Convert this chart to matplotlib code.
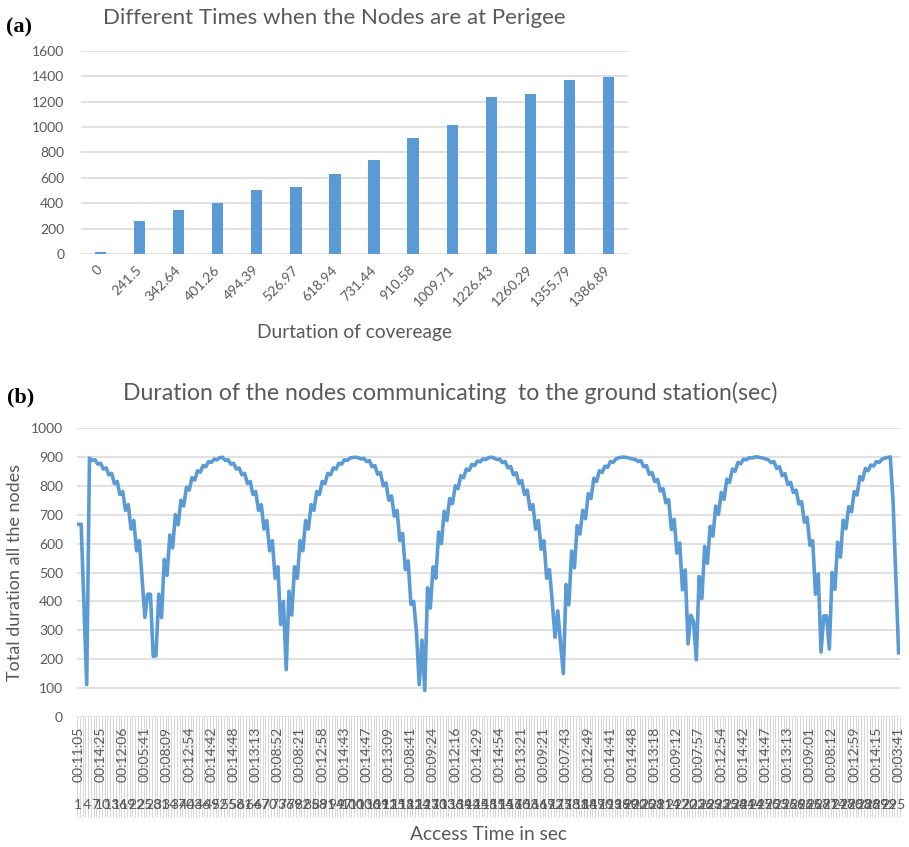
"""Perigee coverage bars and ground-station access durations (panels a and b)."""

import matplotlib.pyplot as plt

BLUE = "#5B9BD5"
GRID = "#D9D9D9"
TEXT = "#595959"
BAND = "#CFCFCF"

plt.rcParams["font.family"] = ["Lato", "DejaVu Sans"]

# (a) number of nodes at perigee per coverage duration
coverage_labels = [
    "0", "241.5", "342.64", "401.26", "494.39", "526.97", "618.94",
    "731.44", "910.58", "1009.71", "1226.43", "1260.29", "1355.79", "1386.89",
]
perigee_counts = [12, 258, 350, 401, 503, 525, 626, 739, 913, 1014, 1232, 1263, 1366, 1395]

# (b) summed contact duration of all nodes, one value per access record
access_times = [
    "00:11:05", "00:14:25", "00:12:06", "00:05:41", "00:08:09", "00:12:54", "00:14:42",
    "00:14:48", "00:13:13", "00:08:52", "00:08:21", "00:12:58", "00:14:43", "00:14:47",
    "00:13:09", "00:08:41", "00:09:24", "00:12:16", "00:14:29", "00:14:54", "00:13:21",
    "00:09:21", "00:07:43", "00:12:49", "00:14:41", "00:14:48", "00:13:18", "00:09:12",
    "00:07:57", "00:12:54", "00:14:42", "00:14:47", "00:13:13", "00:09:01", "00:08:12",
    "00:12:59", "00:14:15", "00:03:41",
]
total_duration = [
    667, 667, 390, 112, 896, 888, 890, 875, 878, 858,
    862, 838, 843, 808, 815, 770, 780, 715, 735, 650,
    680, 575, 610, 480, 345, 425, 425, 210, 212, 425,
    344, 545, 490, 630, 585, 700, 665, 750, 730, 795,
    785, 828, 820, 852, 847, 870, 866, 884, 881, 892,
    890, 897, 899, 888, 890, 875, 878, 858, 862, 838,
    843, 808, 815, 770, 780, 715, 735, 650, 680, 575,
    610, 480, 520, 320, 400, 164, 435, 353, 520, 480,
    610, 575, 680, 650, 735, 715, 780, 770, 815, 808,
    843, 838, 862, 858, 878, 875, 890, 888, 896, 898,
    899, 897, 893, 895, 884, 887, 866, 870, 840, 846,
    800, 810, 750, 765, 695, 715, 610, 635, 510, 540,
    390, 400, 295, 112, 266, 92, 447, 377, 520, 480,
    640, 600, 712, 680, 756, 738, 800, 790, 835, 828,
    858, 853, 874, 870, 886, 883, 893, 891, 897, 899,
    896, 891, 893, 880, 884, 862, 867, 838, 845, 808,
    818, 770, 785, 718, 735, 650, 680, 580, 610, 480,
    510, 400, 276, 367, 255, 150, 458, 388, 574, 516,
    662, 633, 715, 686, 773, 756, 826, 815, 852, 846,
    868, 864, 884, 881, 893, 897, 899, 899, 898, 895,
    893, 891, 884, 887, 866, 870, 840, 846, 815, 822,
    782, 790, 741, 752, 649, 684, 567, 602, 440, 509,
    253, 352, 330, 198, 486, 410, 590, 532, 660, 626,
    730, 701, 777, 753, 823, 812, 858, 850, 881, 876,
    892, 890, 897, 896, 899, 900, 898, 896, 893, 890,
    880, 884, 860, 866, 835, 842, 805, 812, 777, 785,
    737, 745, 674, 690, 594, 610, 425, 495, 225, 350,
    350, 235, 500, 442, 605, 553, 681, 652, 728, 710,
    780, 768, 832, 820, 860, 852, 872, 868, 884, 881,
    892, 896, 898, 900, 745, 480, 222,
]
TIME_STEP = 8   # a time label every 8th record
INDEX_STEP = 3  # a record number every 3rd record


def style_axes(ax, pad):
    for spine in ax.spines.values():
        spine.set_visible(False)
    ax.grid(axis="y", color=GRID, linewidth=1.1)
    ax.set_axisbelow(True)
    ax.tick_params(axis="both", length=0, colors=TEXT, labelsize=10)
    ax.tick_params(axis="y", pad=pad)


fig = plt.figure(figsize=(9.09, 8.47), dpi=100)

# ---- (a) bar chart ----
ax1 = fig.add_axes([0.0891, 0.7001, 0.6018, 0.2400])
pos = list(range(len(perigee_counts)))
ax1.bar(pos, perigee_counts, width=0.29, color=BLUE)
ax1.set_xlim(-0.5, len(pos) - 0.5)
ax1.set_ylim(0, 1600)
ax1.set_yticks(range(0, 1601, 200))
ax1.set_xticks(pos)
ax1.set_xticklabels(coverage_labels, rotation=45, ha="right", va="center",
                    rotation_mode="anchor", fontsize=10.5)
style_axes(ax1, pad=12)
ax1.tick_params(axis="x", pad=10)
ax1.set_xlabel("Durtation of covereage", fontsize=13.8, color=TEXT, va="center")
ax1.xaxis.set_label_coords(0.5, -0.384)
fig.text(334 / 909, 1 - 18 / 847, "Different Times when the Nodes are at Perigee",
         fontsize=16, color=TEXT, ha="center", va="center")
fig.text(6 / 909, 1 - 27 / 847, "(a)", fontsize=16, fontweight="bold",
         family="Liberation Serif", ha="left", va="center")

# ---- (b) line chart ----
ax2 = fig.add_axes([77 / 909, 1 - 717 / 847, 823 / 909, 289 / 847])
idx = list(range(len(total_duration)))
ax2.plot(idx, total_duration, color=BLUE, linewidth=2.6, solid_joinstyle="round")
ax2.set_xlim(-0.5, len(idx) - 0.5)
ax2.set_ylim(0, 1000)
ax2.set_yticks(range(0, 1001, 100))
ax2.set_xticks(idx[::TIME_STEP])
ax2.set_xticklabels(access_times, rotation=90, ha="center", va="top")
style_axes(ax2, pad=10)
ax2.tick_params(axis="x", pad=7)

# category separators under the axis
xaxis_tr = ax2.get_xaxis_transform()
ax2.vlines([i - 0.5 for i in range(len(idx) + 1)], -0.346, 0, transform=xaxis_tr,
           colors=BAND, linewidth=0.6, clip_on=False, zorder=0)
for i in idx[::INDEX_STEP]:
    ax2.text(i, -0.304, str(i + 1), transform=xaxis_tr, ha="center", va="center",
             fontsize=10, color=TEXT, clip_on=False)

ax2.set_xlabel("Access Time in sec", fontsize=13.8, color=TEXT, va="center")
ax2.xaxis.set_label_coords(0.5, -0.408)
ax2.set_ylabel("Total duration all the nodes", fontsize=13, color=TEXT, va="center")
ax2.yaxis.set_label_coords(-0.075, 0.5)
fig.text(450 / 909, 1 - 393 / 847,
         "Duration of the nodes communicating  to the ground station(sec)",
         fontsize=16.6, color=TEXT, ha="center", va="center")
fig.text(7 / 909, 1 - 397 / 847, "(b)", fontsize=16, fontweight="bold",
         family="Liberation Serif", ha="left", va="center")

fig.savefig("out.png", dpi=100)
